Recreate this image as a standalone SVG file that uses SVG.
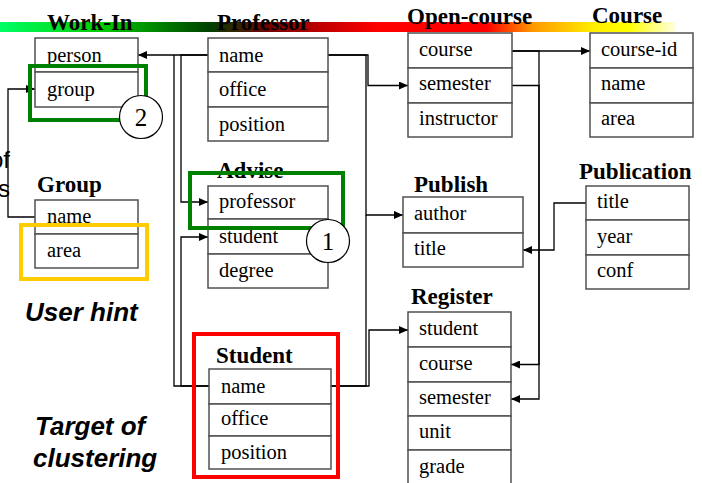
<svg xmlns="http://www.w3.org/2000/svg" width="702" height="483" viewBox="0 0 702 483">
<style>
.box{fill:#fff;stroke:#505050;stroke-width:1.5}
.t{font-family:"Liberation Serif",serif;font-weight:bold;font-size:23px;fill:#000}
.r{font-family:"Liberation Serif",serif;font-size:20.5px;fill:#000}
.c{fill:none;stroke:#000;stroke-width:1.3}
.lab{font-family:"Liberation Sans",Arial,sans-serif;font-weight:bold;font-style:italic;font-size:26px;fill:#000}
.cut{font-family:"Liberation Sans",Arial,sans-serif;font-size:24px;fill:#000}
.hl{fill:none;stroke-width:4}
.num{fill:#fff;stroke:#000;stroke-width:1.2}
.n{font-family:"Liberation Serif",serif;font-size:25px;fill:#000;text-anchor:middle}
</style>
<defs>
<linearGradient id="bar" x1="0" y1="0" x2="1" y2="0">
<stop offset="0" stop-color="#00ff66"/>
<stop offset="0.15" stop-color="#00cc00"/>
<stop offset="0.21" stop-color="#009900"/>
<stop offset="0.31" stop-color="#004000"/>
<stop offset="0.40" stop-color="#770000"/>
<stop offset="0.47" stop-color="#bb0000"/>
<stop offset="0.56" stop-color="#ff0000"/>
<stop offset="0.72" stop-color="#ff0000"/>
<stop offset="0.79" stop-color="#ff9900"/>
<stop offset="0.88" stop-color="#ffee00"/>
<stop offset="0.93" stop-color="#ffff00"/>
<stop offset="1" stop-color="#ffffdd"/>
</linearGradient>
<marker id="ar" markerUnits="userSpaceOnUse" markerWidth="9" markerHeight="8" refX="9" refY="4" orient="auto">
<path d="M0,0 L9,4 L0,8 z" fill="#000"/>
</marker>
</defs>
<rect x="0" y="22" width="675" height="10" fill="url(#bar)"/>

<g id="connectors">
<path class="c" d="M208,55 H138" marker-end="url(#ar)"/>
<path class="c" d="M209,386 H174 V55"/>
<path class="c" d="M208,55 H181 V202 H208" marker-end="url(#ar)"/>
<path class="c" d="M209,386 H181 V237 H208" marker-end="url(#ar)"/>
<path class="c" d="M328,55 H368 V85.5 H408" marker-end="url(#ar)"/>
<path class="c" d="M328,55 H366 V215 H403" marker-end="url(#ar)"/>
<path class="c" d="M331,386 H366 V215"/>
<path class="c" d="M331,386 H369 V330 H408" marker-end="url(#ar)"/>
<path class="c" d="M512,51 H590" marker-end="url(#ar)"/>
<path class="c" d="M512,51 H539 V364.5 H511" marker-end="url(#ar)"/>
<path class="c" d="M512,85.5 H539 V399 H511" marker-end="url(#ar)"/>
<path class="c" d="M586,203 H554 V250 H523" marker-end="url(#ar)"/>
<path class="c" d="M35,217 H8 V89 H35" marker-end="url(#ar)"/>
</g>

<text class="cut" x="-10" y="168">of</text>
<text class="cut" x="-2" y="197">s</text>

<g id="work-in">
<text class="t" x="47" y="30">Work-In</text>
<rect class="box" x="35" y="38" width="103" height="34"/>
<rect class="box" x="35" y="72" width="103" height="35"/>
<text class="r" x="47" y="62">person</text>
<text class="r" x="47" y="96">group</text>
</g>

<g id="professor">
<text class="t" x="217" y="30">Professor</text>
<rect class="box" x="208" y="38" width="120" height="34"/>
<rect class="box" x="208" y="72" width="120" height="35"/>
<rect class="box" x="208" y="107" width="120" height="34"/>
<text class="r" x="219" y="62">name</text>
<text class="r" x="219" y="96">office</text>
<text class="r" x="219" y="131">position</text>
</g>

<g id="open-course">
<text class="t" x="407" y="24">Open-course</text>
<rect class="box" x="408" y="33" width="104" height="35"/>
<rect class="box" x="408" y="68" width="104" height="35"/>
<rect class="box" x="408" y="103" width="104" height="34"/>
<text class="r" x="419" y="56">course</text>
<text class="r" x="419" y="90">semester</text>
<text class="r" x="419" y="125">instructor</text>
</g>

<g id="course">
<text class="t" x="592" y="23">Course</text>
<rect class="box" x="590" y="33" width="103" height="35"/>
<rect class="box" x="590" y="68" width="103" height="35"/>
<rect class="box" x="590" y="103" width="103" height="34"/>
<text class="r" x="601" y="56">course-id</text>
<text class="r" x="601" y="90">name</text>
<text class="r" x="601" y="125">area</text>
</g>

<g id="group">
<text class="t" x="37" y="192">Group</text>
<rect class="box" x="35" y="200" width="103" height="34"/>
<rect class="box" x="35" y="234" width="103" height="34"/>
<text class="r" x="47" y="223">name</text>
<text class="r" x="47" y="257">area</text>
</g>

<g id="advise">
<text class="t" x="217" y="178">Advise</text>
<rect class="box" x="208" y="186" width="120" height="33"/>
<rect class="box" x="208" y="219" width="120" height="35"/>
<rect class="box" x="208" y="254" width="120" height="34"/>
<text class="r" x="219" y="208">professor</text>
<text class="r" x="219" y="243">student</text>
<text class="r" x="219" y="277">degree</text>
</g>

<g id="publish">
<text class="t" x="414" y="192">Publish</text>
<rect class="box" x="403" y="197" width="120" height="36"/>
<rect class="box" x="403" y="233" width="120" height="34"/>
<text class="r" x="414" y="220">author</text>
<text class="r" x="414" y="255">title</text>
</g>

<g id="publication">
<text class="t" x="579" y="179">Publication</text>
<rect class="box" x="586" y="186" width="103" height="34"/>
<rect class="box" x="586" y="220" width="103" height="35"/>
<rect class="box" x="586" y="255" width="103" height="34"/>
<text class="r" x="597" y="208">title</text>
<text class="r" x="597" y="243">year</text>
<text class="r" x="597" y="277">conf</text>
</g>

<g id="register">
<text class="t" x="411" y="304">Register</text>
<rect class="box" x="408" y="312" width="103" height="35"/>
<rect class="box" x="408" y="347" width="103" height="35"/>
<rect class="box" x="408" y="382" width="103" height="34"/>
<rect class="box" x="408" y="416" width="103" height="34"/>
<rect class="box" x="408" y="450" width="103" height="36"/>
<text class="r" x="419" y="335">student</text>
<text class="r" x="419" y="370">course</text>
<text class="r" x="419" y="404">semester</text>
<text class="r" x="419" y="438">unit</text>
<text class="r" x="419" y="473">grade</text>
</g>

<g id="student">
<text class="t" x="216" y="363">Student</text>
<rect class="box" x="209" y="369" width="122" height="35"/>
<rect class="box" x="209" y="404" width="122" height="32"/>
<rect class="box" x="209" y="436" width="122" height="33"/>
<text class="r" x="221" y="393">name</text>
<text class="r" x="221" y="425">office</text>
<text class="r" x="221" y="459">position</text>
</g>

<g id="highlights">
<rect class="hl" x="30" y="66" width="116" height="54" stroke="#008000"/>
<rect class="hl" x="190" y="173" width="153" height="55" stroke="#008000"/>
<rect class="hl" x="21" y="225" width="126" height="54" stroke="#ffcc00"/>
<rect class="hl" x="194" y="334" width="144" height="143" stroke="#ff0000"/>
</g>

<g id="marker-2">
<circle class="num" cx="141" cy="117" r="21.5"/>
<text class="n" x="141" y="126">2</text>
</g>
<g id="marker-1">
<circle class="num" cx="328" cy="241" r="21.5"/>
<text class="n" x="328" y="250">1</text>
</g>

<text class="lab" x="25" y="321">User hint</text>
<text class="lab" x="35" y="435">Target of</text>
<text class="lab" x="33" y="467">clustering</text>
</svg>
